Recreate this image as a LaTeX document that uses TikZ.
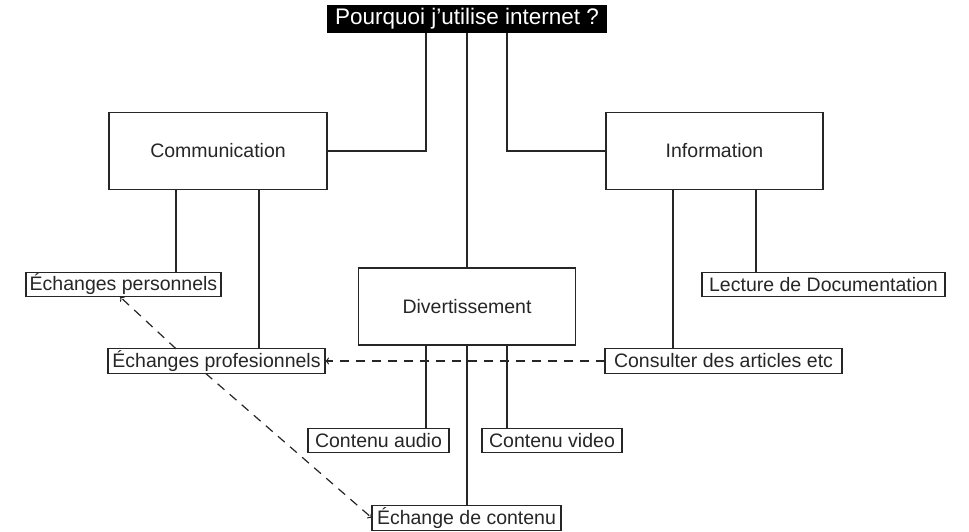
\documentclass[tikz,border=0pt]{standalone}
\usepackage{fontspec}
\setmainfont{Liberation Sans}
\usetikzlibrary{arrows.meta}
\definecolor{ink}{HTML}{262626}
\tikzset{
  x=1pt, y=-1pt,
  every node/.style={font=\fontsize{19.5}{22}\selectfont, text=ink, inner sep=0pt, outer sep=0pt},
  bigbox/.style={draw=ink, line width=1.3pt, fill=white, minimum height=77pt},
  tag/.style={draw=ink, line width=1.3pt, fill=white, minimum height=24.5pt},
  titlebox/.style={fill=black, text=white, minimum width=280pt, minimum height=28pt,
                   font=\fontsize{22.5}{24}\selectfont},
  link/.style={draw=ink, line width=1.3pt},
  ref/.style={draw=ink, line width=1.2pt, dash pattern=on 9pt off 7pt,
              -{To[length=4pt,width=7pt,line width=1pt]}},
}
\begin{document}
\begin{tikzpicture}
\useasboundingbox (0,0) rectangle (969,531);

% headline
\node[titlebox] (title) at (467,19) {Pourquoi j’utilise internet ?};

% main themes
\node[bigbox, minimum width=218pt] (comm) at (218,151) {Communication};
\node[bigbox, minimum width=217pt] (info) at (714.5,151) {Information};
\node[bigbox, minimum width=217pt] (div)  at (467,306.5) {Divertissement};

% sub topics
\node[tag, minimum width=195pt] (perso) at (123.5,284.5) {Échanges personnels};
\node[tag, minimum width=217pt] (prof)  at (216.5,361) {Échanges profesionnels};
\node[tag, minimum width=243pt] (lect)  at (823.5,284.5) {Lecture de Documentation};
\node[tag, minimum width=237pt] (cons)  at (723.5,361) {Consulter des articles etc};
\node[tag, minimum width=141pt] (audio) at (378.5,440.5) {Contenu audio};
\node[tag, minimum width=140pt] (video) at (552,440.5) {Contenu video};
\node[tag, minimum width=189pt] (echc)  at (466.5,518) {Échange de contenu};

% tree links
\draw[link] (comm.east) -| ([xshift=-41pt]title.south);
\draw[link] (info.west) -| ([xshift=40pt]title.south);
\draw[link] (title.south) -- (div.north -| title.south);

\draw[link] ([xshift=-42pt]comm.south) coordinate (c1) -- (c1 |- perso.north);
\draw[link] ([xshift=41pt]comm.south) coordinate (c2) -- (c2 |- prof.north);

\draw[link] ([xshift=-41.5pt]info.south) coordinate (i1) -- (i1 |- cons.north);
\draw[link] ([xshift=41.5pt]info.south) coordinate (i2) -- (i2 |- lect.north);

\draw[link] ([xshift=-41pt]div.south) coordinate (d1) -- (d1 |- audio.north);
\draw[link] ([xshift=40pt]div.south) coordinate (d2) -- (d2 |- video.north);
\draw[link] (div.south) -- (div.south |- echc.north);

% cross references
\draw[ref] (cons.west) -- (prof.east);
\draw[ref] ([xshift=-40.5pt]prof.north) -- ([xshift=-3.5pt]perso.south);
\draw[ref] ([xshift=-11pt]prof.south) -- (echc.west);
\end{tikzpicture}
\end{document}
